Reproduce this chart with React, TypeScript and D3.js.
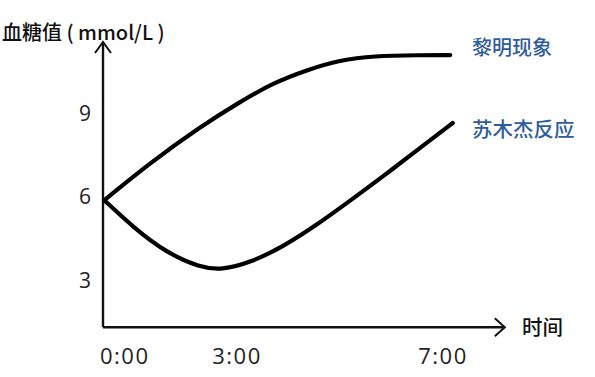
import React from "react";
import * as d3 from "d3";

const yTicks = [3, 6, 9];
const xTicks = [0, 3, 7];
const xTickLabels = ["0:00", "3:00", "7:00"];
const seriesNames = ["黎明现象", "苏木杰反应"];
const dawnHours = [0.04, 1.05, 2.17, 3.06, 3.7, 4.36, 5.0, 5.64, 6.55, 7.14];
const dawnValues = [5.88, 7.2, 8.5, 9.4, 10.08, 10.55, 10.9, 11.05, 11.08, 11.08];
const somogyiHours = [0.04, 0.67, 1.43, 2.17, 2.66, 3.25, 3.89, 4.55, 5.19, 5.87, 6.55, 7.19];
const somogyiValues = [5.85, 4.9, 3.97, 3.45, 3.36, 3.62, 4.19, 4.98, 5.84, 6.77, 7.74, 8.64];
const yTitle = "血糖值 ( mmol/L )";
const xTitle = "时间";

export default function App() {
  const W = 595, H = 377;
  const x = d3.scaleLinear().domain([0, 3, 7]).range([103, 237, 443]);
  const y = d3.scaleLinear().domain([3, 9]).range([280, 113]);
  const x0 = x(0);
  const y0 = y(1.3);
  const yTop = y(11.55);
  const xEnd = x(8.2);
  const line = d3
    .line<[number, number]>()
    .x((d) => x(d[0]))
    .y((d) => y(d[1]))
    .curve(d3.curveBasis);
  const dawn = dawnHours.map((h, i) => [h, dawnValues[i]] as [number, number]);
  const som = somogyiHours.map((h, i) => [h, somogyiValues[i]] as [number, number]);
  const cjk = "'Noto Sans CJK SC', 'Noto Sans', sans-serif";
  const lat = "'Open Sans', 'Noto Sans', sans-serif";
  const blue = "#2f5c9c";
  return (
    <svg
      width={W}
      height={H}
      style={{ position: "absolute", left: 0, top: 0, background: "#fff" }}
    >
      <rect width={W} height={H} fill="#fff" />
      {/* axes */}
      <path d={`M${x0},${y0}V${yTop}`} stroke="#111" strokeWidth={2.4} fill="none" />
      <path
        d={`M${x0 - 8},${yTop + 11}L${x0},${yTop}L${x0 + 8},${yTop + 11}`}
        stroke="#111"
        strokeWidth={2}
        fill="none"
      />
      <path d={`M${x0},${y0}H${xEnd}`} stroke="#111" strokeWidth={2.4} fill="none" />
      <path
        d={`M${xEnd - 10},${y0 - 9}L${xEnd},${y0}L${xEnd - 10},${y0 + 9}`}
        stroke="#111"
        strokeWidth={2}
        fill="none"
      />
      {/* curves */}
      <path d={line(dawn) || ""} stroke="#000" strokeWidth={4.2} fill="none" strokeLinecap="round" />
      <path d={line(som) || ""} stroke="#000" strokeWidth={4.2} fill="none" strokeLinecap="round" />
      {/* y tick labels */}
      {yTicks.map((t) => (
        <text
          key={t}
          x={85}
          y={y(t)}
          dy="0.36em"
          textAnchor="middle"
          fontFamily={lat}
          fontSize={21}
          fill="#222"
        >
          {t}
        </text>
      ))}
      {/* x tick labels */}
      {xTicks.map((t, i) => (
        <text
          key={t}
          x={i === 0 ? x(t) - 3 : x(t)}
          y={356}
          dy="0.36em"
          textAnchor={i === 0 ? "start" : "middle"}
          fontFamily={lat}
          fontSize={22}
          letterSpacing={1.5}
          fill="#222"
        >
          {xTickLabels[i]}
        </text>
      ))}
      <text x={2} y={33} dy="0.36em" fontFamily={cjk} fontSize={20} fontWeight={500} fill="#111">
        {yTitle}
      </text>
      <text x={522} y={y0} dy="0.36em" fontFamily={cjk} fontSize={20.5} fontWeight={500} fill="#111">
        {xTitle}
      </text>
      <text x={472} y={y(11.05) - 8} dy="0.36em" fontFamily={cjk} fontSize={20} fontWeight={500} fill={blue}>
        {seriesNames[0]}
      </text>
      <text x={472} y={y(8.64) + 7} dy="0.36em" fontFamily={cjk} fontSize={20.5} fontWeight={500} fill={blue}>
        {seriesNames[1]}
      </text>
    </svg>
  );
}
